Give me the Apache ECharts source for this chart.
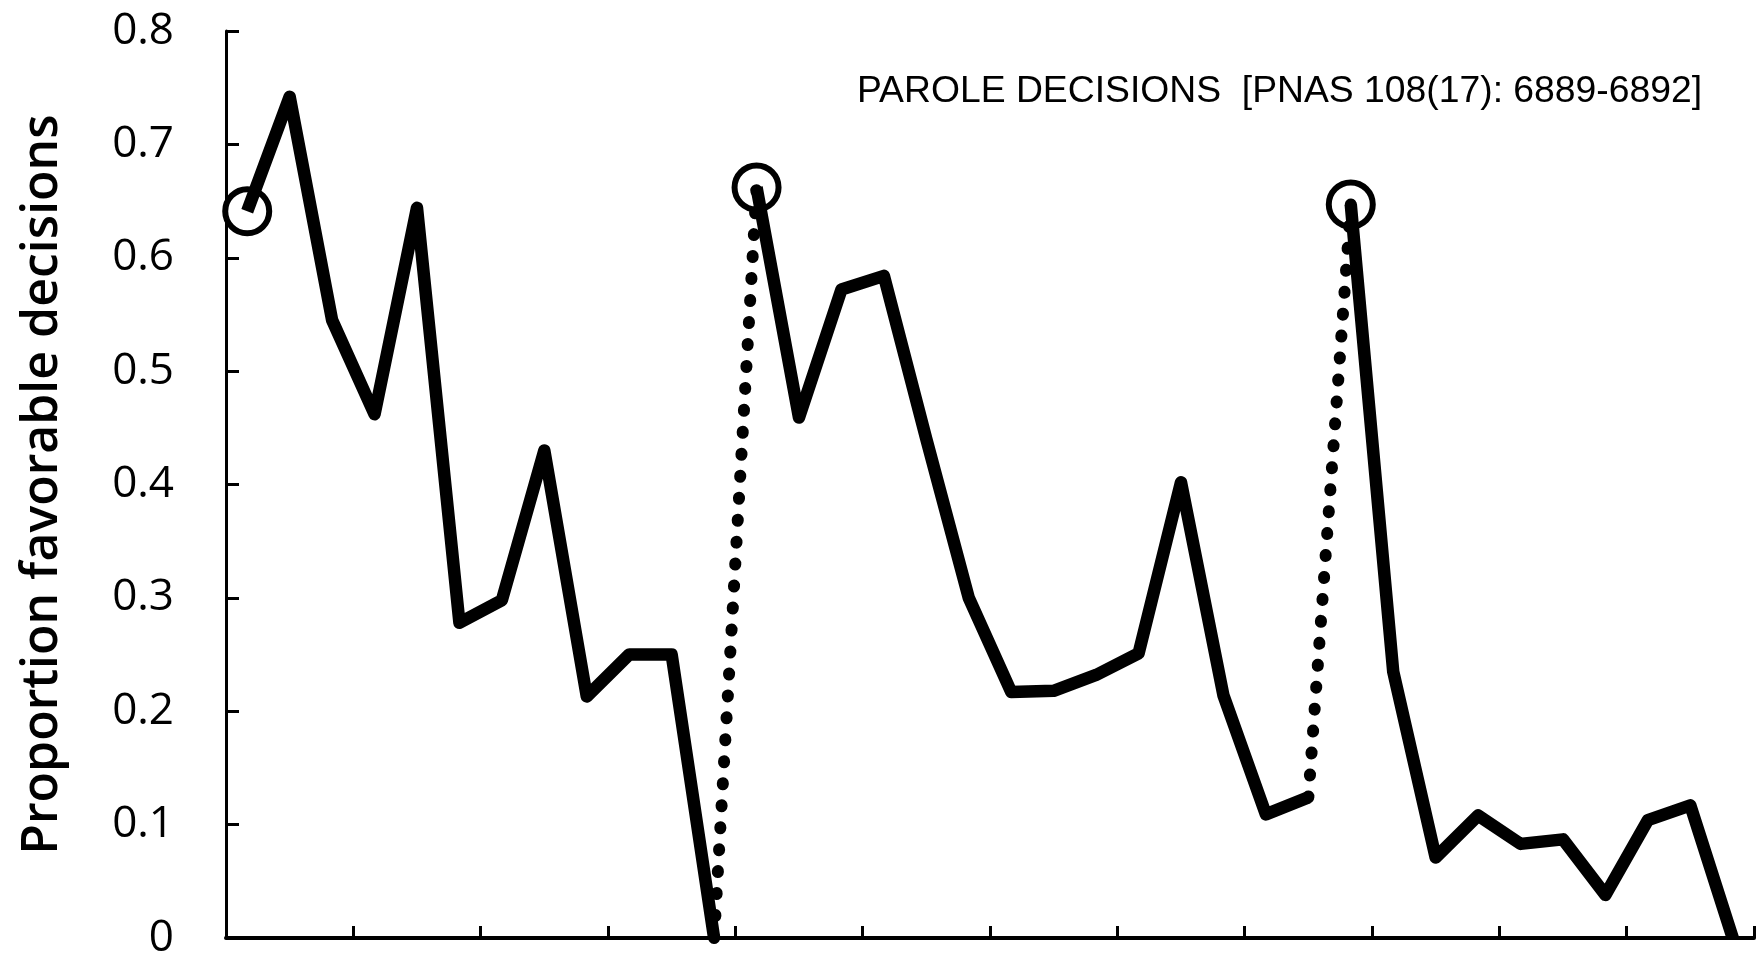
<!DOCTYPE html>
<html>
<head>
<meta charset="utf-8">
<title>Parole decisions</title>
<script src="https://cdn.jsdelivr.net/npm/echarts@6/dist/echarts.min.js"></script>
<style>
  html, body { margin: 0; padding: 0; background: #fff; }
  #chart { width: 1760px; height: 960px; }
</style>
</head>
<body>
<div id="chart"></div>
<script>
// ordinal position of each case within the day (36 slots, 3 per tick)
const cases = Array.from({ length: 36 }, (_, i) => String(i + 1));

// proportion of favorable decisions, one array per session between food breaks
const session1 = [0.641, 0.742, 0.545, 0.462, 0.644, 0.278, 0.298, 0.430, 0.213, 0.250, 0.250, 0];
const session2 = [0.662, 0.459, 0.572, 0.584, 0.440, 0.300, 0.217, 0.218, 0.232, 0.251, 0.402, 0.214, 0.109, 0.124];
const session3 = [0.647, 0.235, 0.071, 0.108, 0.083, 0.087, 0.038, 0.104, 0.117, 0];

const yTicks = [0, 0.1, 0.2, 0.3, 0.4, 0.5, 0.6, 0.7, 0.8];

const sessions = [session1, session2, session3];
const starts = [];
let off = 0;
sessions.forEach((s) => { starts.push(off); off += s.length; });

const pad = (vals, from) =>
  cases.map((_, i) => (i >= from && i < from + vals.length ? vals[i - from] : "-"));

// dotted jumps across each break: last case before -> first case after
const breakData = cases.map(() => "-");
for (let k = 0; k < sessions.length - 1; k++) {
  const a = starts[k] + sessions[k].length - 1;
  breakData[a] = sessions[k][sessions[k].length - 1];
  breakData[starts[k + 1]] = sessions[k + 1][0];
}
const circleData = cases.map(() => "-");
sessions.forEach((s, k) => { circleData[starts[k]] = s[0]; });

const chart = echarts.init(document.getElementById("chart"), null, { renderer: "canvas" });

const solid = { color: "#000", width: 12.5, join: "round", cap: "butt" };

chart.setOption({
  animation: false,
  backgroundColor: "#fff",
  title: {
    text: "PAROLE DECISIONS  [PNAS 108(17): 6889-6892]",
    left: 857,
    top: 73,
    padding: 0,
    textStyle: { fontFamily: "Liberation Sans", fontSize: 37.3, fontWeight: "normal", color: "#000" },
  },
  grid: { left: 226, right: 6, top: 31, bottom: 19, containLabel: false },
  xAxis: {
    type: "category",
    data: cases,
    boundaryGap: true,
    axisLine: { show: true, lineStyle: { color: "#000", width: 4 } },
    axisTick: { show: true, inside: true, interval: 2, length: 12, lineStyle: { color: "#000", width: 3 } },
    axisLabel: { show: false },
    splitLine: { show: false },
  },
  yAxis: {
    type: "value",
    min: yTicks[0],
    max: yTicks[yTicks.length - 1],
    interval: 0.1,
    name: "Proportion favorable decisions",
    nameLocation: "middle",
    nameRotate: 90,
    nameGap: 158,
    nameTextStyle: { fontFamily: "Open Sans", fontSize: 50, fontWeight: 600, color: "#000" },
    axisLine: { show: true, lineStyle: { color: "#000", width: 3 } },
    axisTick: { show: true, inside: true, length: 13, lineStyle: { color: "#000", width: 3 } },
    axisLabel: { margin: 52, fontFamily: "Open Sans", fontSize: 44, color: "#000" },
    splitLine: { show: false },
  },
  series: [
    ...sessions.map((s, k) => ({
      type: "line",
      data: pad(s, starts[k]),
      symbol: "none",
      clip: false,
      silent: true,
      lineStyle: solid,
    })),
    {
      type: "line",
      data: breakData,
      symbol: "none",
      clip: false,
      silent: true,
      lineStyle: { color: "#000", width: 12, type: [1, 21], cap: "round" },
    },
    {
      type: "scatter",
      data: circleData,
      symbol: "circle",
      symbolSize: 44,
      clip: false,
      silent: true,
      itemStyle: { color: "rgba(0,0,0,0)", borderColor: "#000", borderWidth: 6, opacity: 1 },
    },
  ],
});
</script>
</body>
</html>
